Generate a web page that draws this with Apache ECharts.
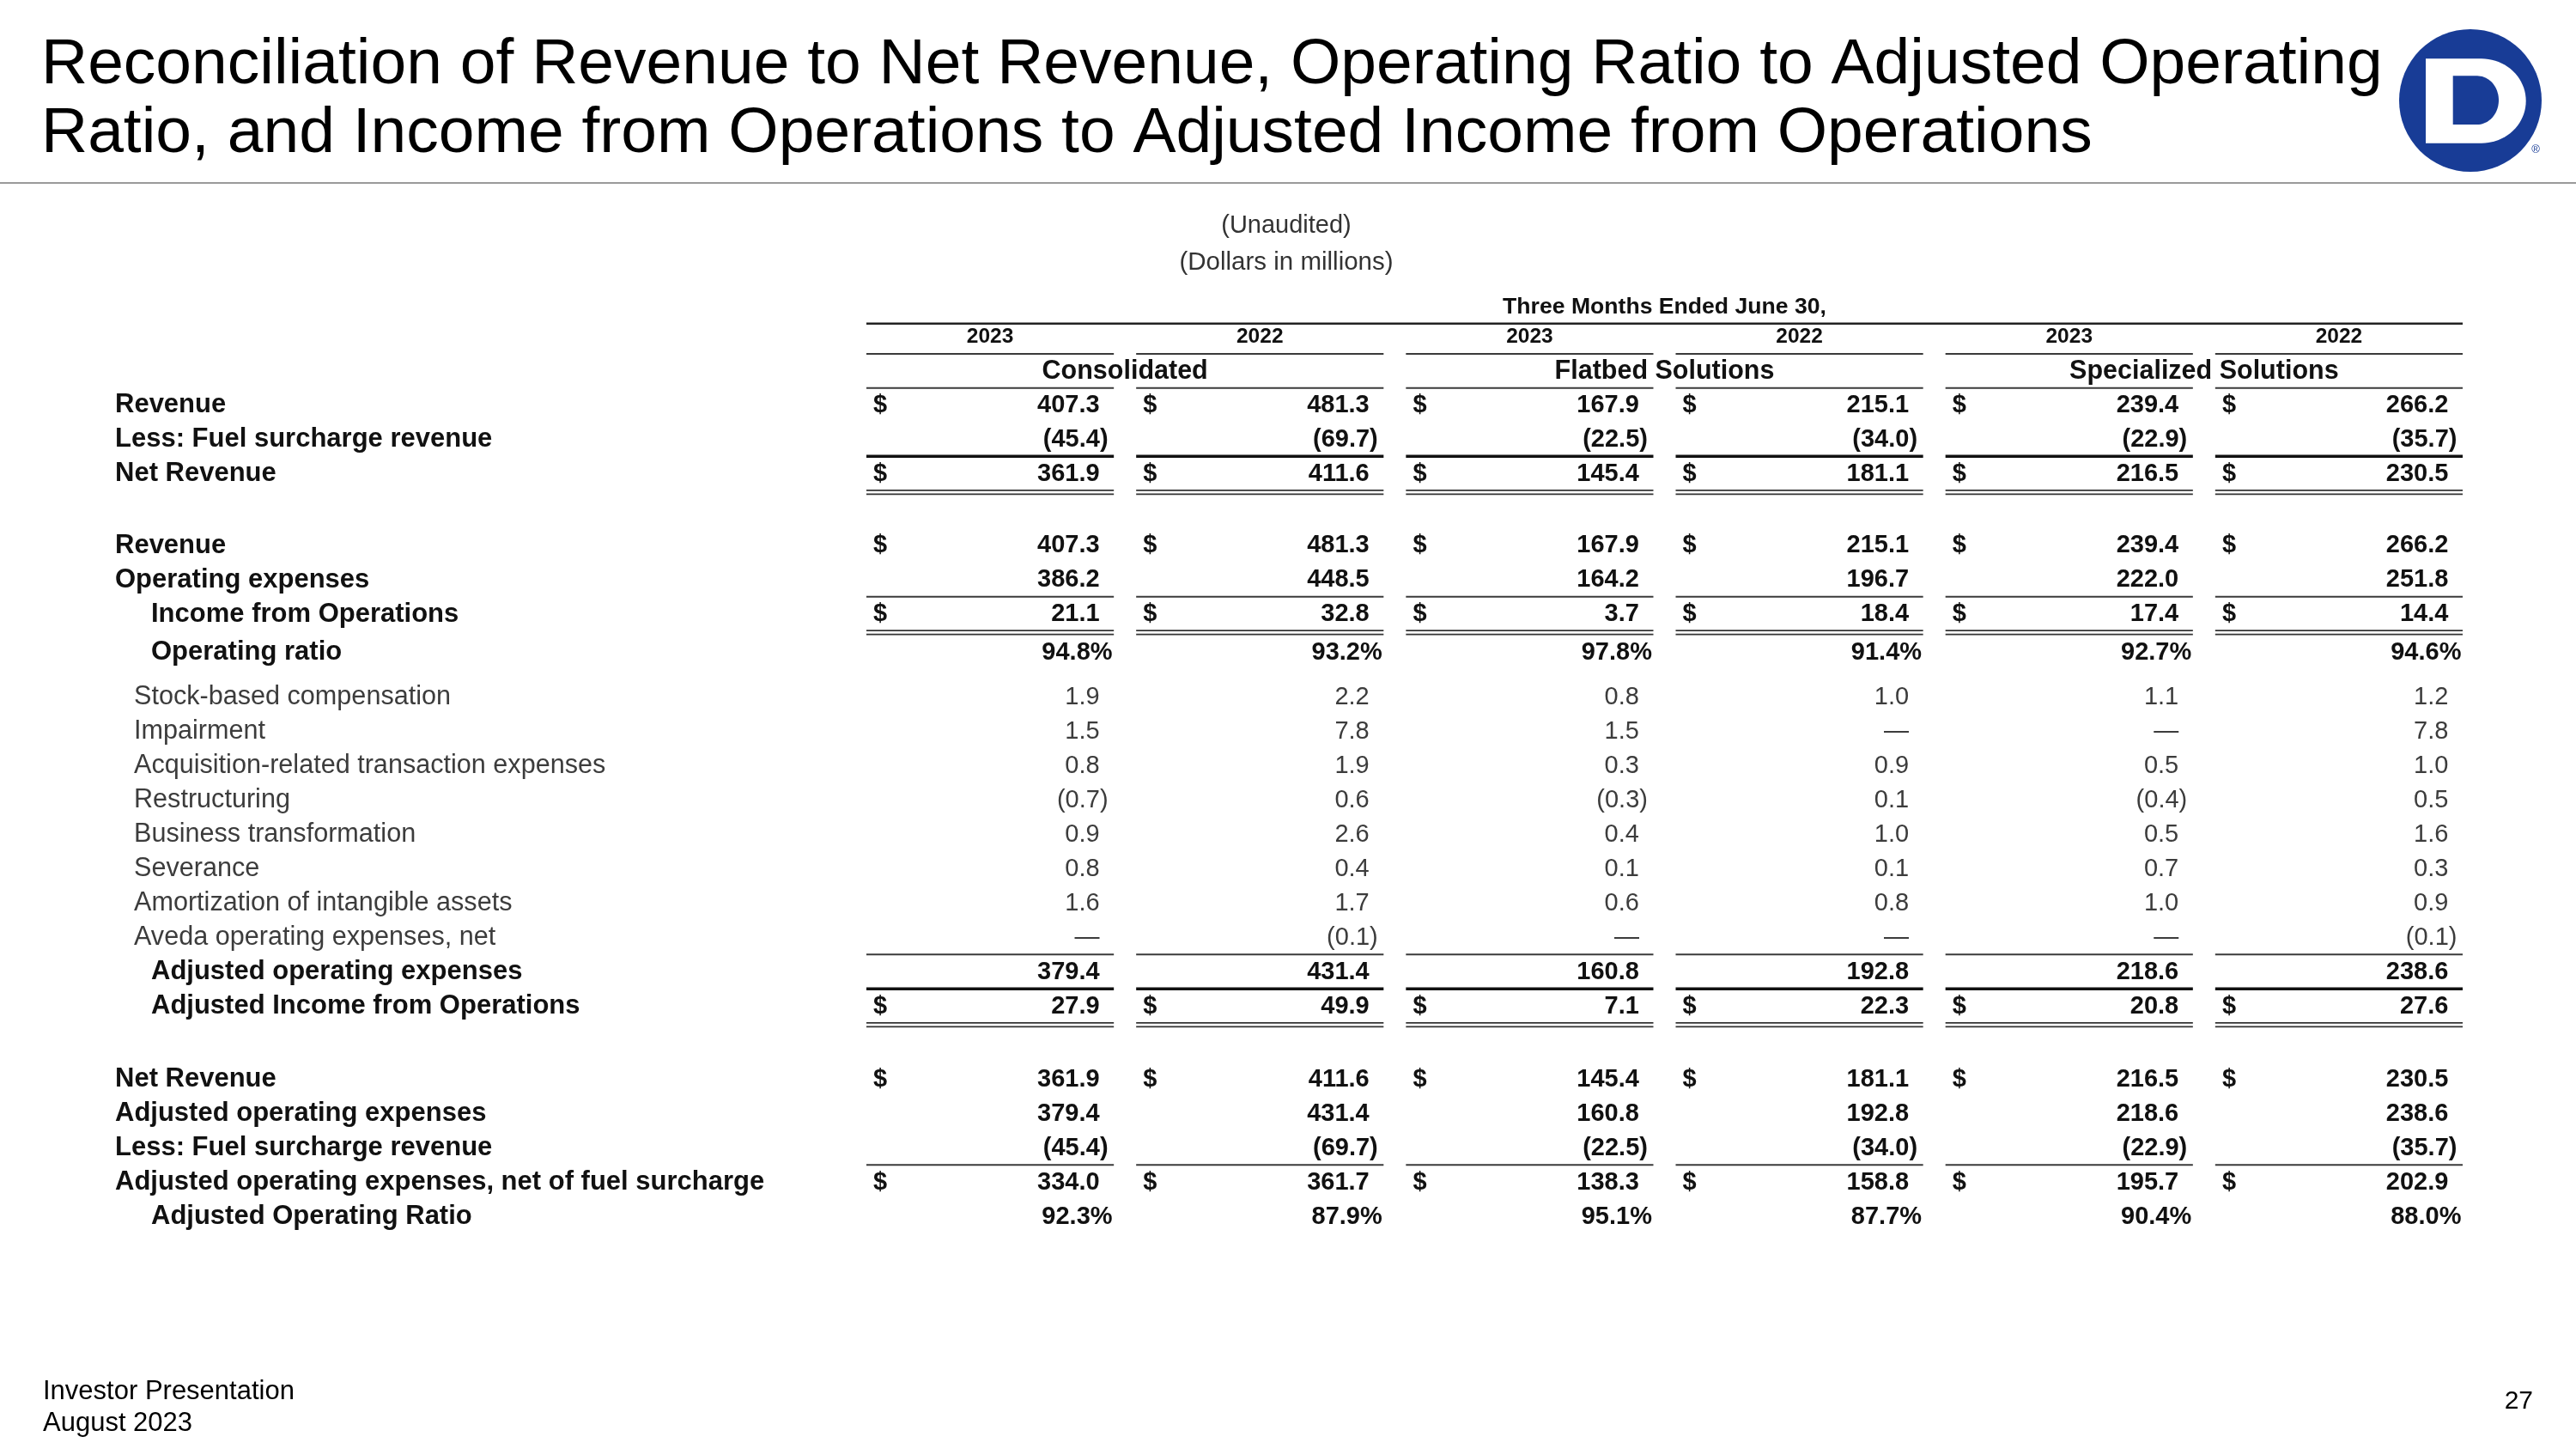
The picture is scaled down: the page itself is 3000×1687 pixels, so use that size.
<!DOCTYPE html>
<html>
<head>
<meta charset="utf-8">
<title>Reconciliation of Revenue to Net Revenue</title>
<script src="https://cdn.jsdelivr.net/npm/echarts@6.0.0/dist/echarts.min.js"></script>
<style>
  html, body { margin: 0; padding: 0; background: #fff; }
  #chart { width: 3000px; height: 1687px; }
</style>
</head>
<body>
<div id="chart"></div>
<script>
// ---------------- data (dollars in millions) ----------------
const periodLabel = 'Three Months Ended June 30,'
const segments = ['Consolidated', 'Flatbed Solutions', 'Specialized Solutions']
const years = ['2023', '2022', '2023', '2022', '2023', '2022']

const rowLabels = [
  'Revenue',
  'Less: Fuel surcharge revenue',
  'Net Revenue',
  'Revenue',
  'Operating expenses',
  'Income from Operations',
  'Operating ratio',
  'Stock-based compensation',
  'Impairment',
  'Acquisition-related transaction expenses',
  'Restructuring',
  'Business transformation',
  'Severance',
  'Amortization of intangible assets',
  'Aveda operating expenses, net',
  'Adjusted operating expenses',
  'Adjusted Income from Operations',
  'Net Revenue',
  'Adjusted operating expenses',
  'Less: Fuel surcharge revenue',
  'Adjusted operating expenses, net of fuel surcharge',
  'Adjusted Operating Ratio',
]

// null = "—"
const consolidated2023 = [407.3, -45.4, 361.9, 407.3, 386.2, 21.1, 94.8, 1.9, 1.5, 0.8, -0.7, 0.9, 0.8, 1.6, null, 379.4, 27.9, 361.9, 379.4, -45.4, 334.0, 92.3]
const consolidated2022 = [481.3, -69.7, 411.6, 481.3, 448.5, 32.8, 93.2, 2.2, 7.8, 1.9, 0.6, 2.6, 0.4, 1.7, -0.1, 431.4, 49.9, 411.6, 431.4, -69.7, 361.7, 87.9]
const flatbed2023 = [167.9, -22.5, 145.4, 167.9, 164.2, 3.7, 97.8, 0.8, 1.5, 0.3, -0.3, 0.4, 0.1, 0.6, null, 160.8, 7.1, 145.4, 160.8, -22.5, 138.3, 95.1]
const flatbed2022 = [215.1, -34.0, 181.1, 215.1, 196.7, 18.4, 91.4, 1.0, null, 0.9, 0.1, 1.0, 0.1, 0.8, null, 192.8, 22.3, 181.1, 192.8, -34.0, 158.8, 87.7]
const specialized2023 = [239.4, -22.9, 216.5, 239.4, 222.0, 17.4, 92.7, 1.1, null, 0.5, -0.4, 0.5, 0.7, 1.0, null, 218.6, 20.8, 216.5, 218.6, -22.9, 195.7, 90.4]
const specialized2022 = [266.2, -35.7, 230.5, 266.2, 251.8, 14.4, 94.6, 1.2, 7.8, 1.0, 0.5, 1.6, 0.3, 0.9, -0.1, 238.6, 27.6, 230.5, 238.6, -35.7, 202.9, 88.0]

const columnValues = [consolidated2023, consolidated2022, flatbed2023, flatbed2022, specialized2023, specialized2022]
const percentRows = [6, 21]
const dollarRows = [0, 2, 3, 5, 16, 17, 20]

// ---------------- layout / style of the table ----------------
// b = bold, bi = bold indented, r = regular indented
const rowKinds = ['b', 'b', 'b', 'b', 'b', 'bi', 'bi', 'r', 'r', 'r', 'r', 'r', 'r', 'r', 'r', 'bi', 'bi', 'b', 'b', 'b', 'b', 'bi']
// extra space (in half rows) before a row
const extraBefore = { 3: 2.17, 6: 0.23, 7: 0.6, 17: 2.25 }
const underlines = { 1: 'thick', 2: 'double', 4: 'single', 5: 'double', 14: 'single', 15: 'thick', 16: 'double', 19: 'single' }

const FONT = '"Liberation Sans", Arial, sans-serif'
const labelX = { b: 134, bi: 176, r: 156 }

// row positions on the y value axis (1 unit = half a row)
const rowSlots = []
rowLabels.forEach((_, i) => {
  const prev = i === 0 ? -2 : rowSlots[i - 1]
  rowSlots.push(prev + 2 + (extraBefore[i] || 0))
})

function cellText(c, i) {
  const v = columnValues[c][i]
  if (v === null || v === undefined) return '—'
  const s = Math.abs(v).toFixed(1)
  if (percentRows.includes(i)) return s + '%'
  return v < 0 ? '(' + s + ')' : s
}

function isBold(i) {
  return rowKinds[i] !== 'r'
}

// ---------------- series data ----------------
const labelData = rowLabels.map((_, i) => [0, rowSlots[i]])

const cellItems = []
columnValues.forEach((col, c) => {
  col.forEach((_, i) => cellItems.push({ c, i }))
})
const cellData = cellItems.map((d) => [d.c, rowSlots[d.i]])

// rules: header lines + underlines
const ruleItems = [{ c: 0, slot: -4.75, kind: 'header', full: true }]
years.forEach((_, c) => {
  ruleItems.push({ c, slot: -2.98, kind: 'single' })
  ruleItems.push({ c, slot: -1, kind: 'single' })
})
Object.keys(underlines).forEach((k) => {
  const i = Number(k)
  years.forEach((_, c) => ruleItems.push({ c, slot: rowSlots[i] + 0.98, kind: underlines[k] }))
})
const ruleData = ruleItems.map((r) => [r.c, r.slot])

const headerItems = [{ text: periodLabel, from: 0, to: 5, slot: -5.7, size: 26.6 }]
years.forEach((y, c) => headerItems.push({ text: y, from: c, to: c, slot: -3.95, size: 24.5 }))
segments.forEach((s, k) => headerItems.push({ text: s, from: k * 2, to: k * 2 + 1, slot: -1.95, size: 30.5 }))
const headerData = headerItems.map((h) => [h.from, h.slot])

// ---------------- render functions ----------------
function renderLabel(params, api) {
  const i = params.dataIndex
  const y = api.coord([0, rowSlots[i]])[1]
  const bold = isBold(i)
  return {
    type: 'text',
    x: labelX[rowKinds[i]],
    y: y,
    style: {
      text: rowLabels[i],
      fill: bold ? '#111' : '#3c3c3c',
      fontFamily: FONT,
      fontSize: bold ? 31 : 30.6,
      fontWeight: bold ? 'bold' : 'normal',
      align: 'left',
      verticalAlign: 'middle',
    },
  }
}

function renderCell(params, api) {
  const d = cellItems[params.dataIndex]
  const p = api.coord([d.c, rowSlots[d.i]])
  const v = columnValues[d.c][d.i]
  const text = cellText(d.c, d.i)
  // accounting style: closing paren / percent sign hang past the digits
  let hang = 0
  if (percentRows.includes(d.i)) hang = 15
  else if (v !== null && v < 0) hang = 10
  const bold = isBold(d.i)
  const style = {
    fill: bold ? '#111' : '#3c3c3c',
    fontFamily: FONT,
    fontSize: 29,
    fontWeight: bold ? 'bold' : 'normal',
    verticalAlign: 'middle',
  }
  const children = [
    { type: 'text', x: p[0] + 127.5 + hang, y: p[1], style: Object.assign({ text: text, align: 'right' }, style) },
  ]
  if (dollarRows.includes(d.i)) {
    children.push({ type: 'text', x: p[0] - 136, y: p[1], style: Object.assign({ text: '$', align: 'left' }, style) })
  }
  return { type: 'group', children }
}

function renderRule(params, api) {
  const r = ruleItems[params.dataIndex]
  const p = api.coord([r.c, r.slot])
  const half = api.size([1, 0])[0] / 2 - 13
  const x1 = p[0] - half
  let x2 = p[0] + half
  if (r.full) x2 = api.coord([5, r.slot])[0] + half
  const line = (y, w, color) => ({
    type: 'line',
    shape: { x1, y1: y, x2, y2: y },
    style: { stroke: color, lineWidth: w },
  })
  if (r.kind === 'double') {
    return { type: 'group', children: [line(p[1] - 0.5, 1.8, '#333'), line(p[1] + 4, 1.8, '#333')] }
  }
  if (r.kind === 'thick') return line(p[1], 3.4, '#111')
  if (r.kind === 'header') return line(p[1], 2.4, '#222')
  return line(p[1], 2, '#3a3a3a')
}

function renderHeader(params, api) {
  const h = headerItems[params.dataIndex]
  const a = api.coord([h.from, h.slot])
  const b = api.coord([h.to, h.slot])
  return {
    type: 'text',
    x: (a[0] + b[0]) / 2,
    y: a[1],
    style: {
      text: h.text,
      fill: '#111',
      fontFamily: FONT,
      fontSize: h.size,
      fontWeight: 'bold',
      align: 'center',
      verticalAlign: 'middle',
    },
  }
}

// logo "D": straight stem on the left, half ellipse on the right
function dShape(left, top, bottom, curveX, right) {
  const cy = (top + bottom) / 2
  const rx = right - curveX
  const ry = (bottom - top) / 2
  const pts = [[left, top]]
  for (let k = 0; k <= 40; k++) {
    const a = -Math.PI / 2 + (Math.PI * k) / 40
    pts.push([curveX + rx * Math.cos(a), cy + ry * Math.sin(a)])
  }
  pts.push([left, bottom])
  return pts
}

// ---------------- chart ----------------
const chart = echarts.init(document.getElementById('chart'))

const logoBlue = '#183c96'

chart.setOption({
  animation: false,
  backgroundColor: '#fff',
  grid: { left: 996, right: 119, top: 351.7, bottom: 255.3 },
  xAxis: { type: 'category', data: ['c0', 'c1', 'c2', 'c3', 'c4', 'c5'], show: false },
  yAxis: { type: 'value', inverse: true, min: -6, max: 48, show: false },
  graphic: [
    {
      type: 'text',
      x: 48,
      y: 76,
      style: { text: 'Reconciliation of Revenue to Net Revenue, Operating Ratio to Adjusted Operating', fill: '#000', fontFamily: FONT, fontSize: 75, verticalAlign: 'middle' },
    },
    {
      type: 'text',
      x: 48,
      y: 156,
      style: { text: 'Ratio, and Income from Operations to Adjusted Income from Operations', fill: '#000', fontFamily: FONT, fontSize: 75, verticalAlign: 'middle' },
    },
    { type: 'rect', shape: { x: 0, y: 212, width: 3000, height: 2 }, style: { fill: '#9a9a9a' } },
    // logo
    { type: 'circle', shape: { cx: 2877, cy: 117, r: 83 }, style: { fill: logoBlue } },
    { type: 'polygon', shape: { points: dShape(2825, 68.3, 166.7, 2890, 2941.7) }, style: { fill: '#fff' } },
    { type: 'polygon', shape: { points: dShape(2856.7, 88.3, 145, 2885, 2910) }, style: { fill: logoBlue } },
    { type: 'text', x: 2953, y: 174, style: { text: '®', fill: logoBlue, fontFamily: FONT, fontSize: 13, align: 'center', verticalAlign: 'middle' } },
    // table captions
    { type: 'text', x: 1498, y: 263, style: { text: '(Unaudited)', fill: '#333', fontFamily: FONT, fontSize: 29, align: 'center', verticalAlign: 'middle' } },
    { type: 'text', x: 1498, y: 306, style: { text: '(Dollars in millions)', fill: '#333', fontFamily: FONT, fontSize: 29.5, align: 'center', verticalAlign: 'middle' } },
    // footer
    { type: 'text', x: 50, y: 1620, style: { text: 'Investor Presentation', fill: '#000', fontFamily: FONT, fontSize: 31, verticalAlign: 'middle' } },
    { type: 'text', x: 50, y: 1657, style: { text: 'August 2023', fill: '#000', fontFamily: FONT, fontSize: 31, verticalAlign: 'middle' } },
    { type: 'text', x: 2950, y: 1632, style: { text: '27', fill: '#000', fontFamily: FONT, fontSize: 30, align: 'right', verticalAlign: 'middle' } },
  ],
  series: [
    { type: 'custom', name: 'rules', renderItem: renderRule, data: ruleData, silent: true, z: 1 },
    { type: 'custom', name: 'headers', renderItem: renderHeader, data: headerData, silent: true, z: 2 },
    { type: 'custom', name: 'labels', renderItem: renderLabel, data: labelData, silent: true, z: 2 },
    { type: 'custom', name: 'cells', renderItem: renderCell, data: cellData, silent: true, z: 2 },
  ],
})
</script>
</body>
</html>
